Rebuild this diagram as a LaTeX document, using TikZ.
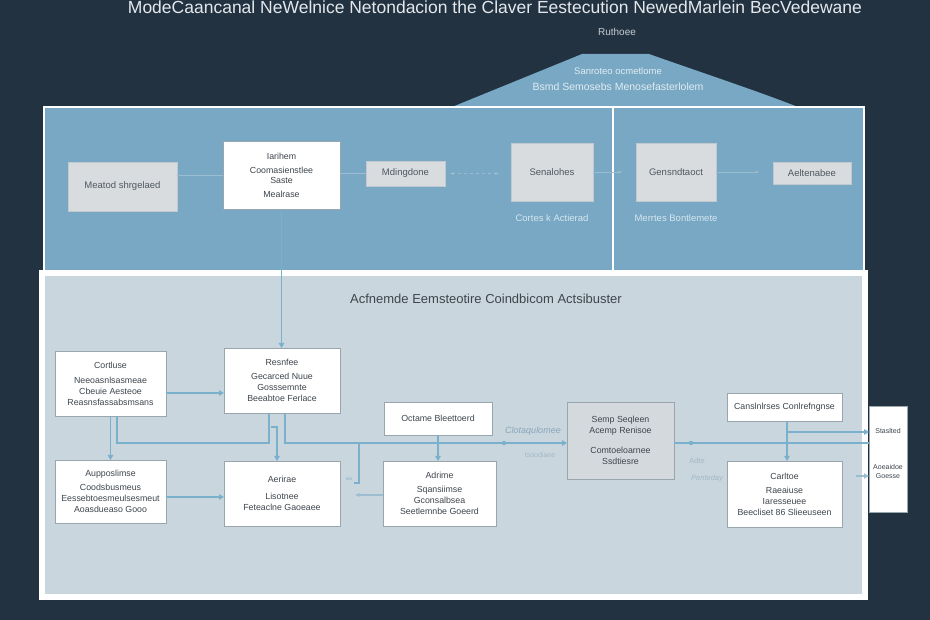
\documentclass[tikz,border=0pt]{standalone}
\usepackage{fontspec}
\setmainfont{Liberation Sans}
\usetikzlibrary{arrows.meta,calc}
\definecolor{navy}{HTML}{223241}
\definecolor{upblue}{HTML}{78A8C3}
\definecolor{lowfill}{HTML}{CAD6DE}
\definecolor{ugray}{HTML}{D8DCDF}
\definecolor{ugrayd}{HTML}{C2C9CE}
\definecolor{boxd}{HTML}{9AA6AE}
\definecolor{gbox}{HTML}{D3D9DD}
\definecolor{txtg}{HTML}{505860}
\definecolor{txtd}{HTML}{3E454C}
\definecolor{connc}{HTML}{7AB0CC}
\definecolor{faintc}{HTML}{9CBDD0}
\definecolor{titlec}{HTML}{E4E8EC}
\definecolor{rooft}{HTML}{E2ECF2}
\definecolor{lblc}{HTML}{8AA6B9}
\definecolor{lblc2}{HTML}{A2B8C6}
\definecolor{uplbl}{HTML}{D6E6F0}
\tikzset{
  ubox/.style={fill=ugray, draw=ugrayd, line width=0.5pt, inner sep=2pt, outer sep=0pt,
    text=txtg, font=\fontsize{9.5}{11}\selectfont, align=center},
  wbox/.style={fill=white, draw=boxd, line width=0.6pt, inner sep=2pt, outer sep=0pt,
    text=txtd, font=\fontsize{8.8}{11}\selectfont, align=center},
  gboxs/.style={wbox, fill=gbox, draw=boxd},
  conn/.style={draw=connc, line width=1.6pt, -{Triangle[length=5pt,width=5.5pt]}},
  connl/.style={draw=connc, line width=1.6pt},
  faintl/.style={draw=faintc, line width=0.9pt},
  lbl/.style={inner sep=0pt, font=\fontsize{8}{10}\selectfont},
}
\begin{document}
\begin{tikzpicture}[x=1pt,y=-1pt]
\useasboundingbox (0,0) rectangle (930,620);
\fill[navy] (0,0) rectangle (930,620);
% title
\node[anchor=base, text=titlec, inner sep=0pt, font=\fontsize{17.5}{19}\selectfont] (title) at (495,13.5)
  {ModeCaancanal NeWelnice Netondacion the Claver Eestecution NewedMarlein BecVedewane};
\node[lbl, text=titlec!85!navy, font=\fontsize{10}{11}\selectfont] (ruth) at (617,32) {Ruthoee};
% roof
\fill[upblue] (452,107) -- (582,54) -- (649,54) .. controls (700,72) and (760,92) .. (798,107) -- cycle;
\node[lbl, text=rooft, font=\fontsize{9.5}{10}\selectfont] (r1) at (618,71) {Sanroteo ocmetlome};
\node[lbl, text=rooft, font=\fontsize{10.5}{11}\selectfont] (r2) at (618,87) {Bsmd Semosebs Menosefasterlolem};
% upper panel
\draw[white, line width=2pt, fill=upblue] (44,107) rectangle (864,271);
\draw[white, line width=2pt] (612.5,107) -- (612.5,271);
% lower panel
\fill[white] (39,270) rectangle (868,600);
\fill[lowfill] (45,276) rectangle (862,594);
\node[lbl, text=txtd, font=\fontsize{13}{15}\selectfont] (ltitle) at (486,299)
  {Acfnemde Eemsteotire Coindbicom Actsibuster};

% upper boxes
\node[ubox, minimum width=109pt, minimum height=49pt] (u1) at (122.5,186.5) {Meatod shrgelaed};
\node[wbox, minimum width=117pt, minimum height=68pt, font=\fontsize{8.8}{10}\selectfont] (u2) at (281.5,175)
  {Iarihem\\[4pt]Coomasienstlee\\Saste\\[4pt]Mealrase};
\node[ubox, minimum width=79pt, minimum height=25pt] (u3) at (405.5,173.5) {Mdingdone};
\node[ubox, minimum width=82pt, minimum height=58pt] (u4) at (552,172) {Senalohes};
\node[ubox, minimum width=80pt, minimum height=58pt] (u5) at (676,172) {Gensndtaoct};
\node[ubox, minimum width=78pt, minimum height=22pt] (u6) at (812,173) {Aeltenabee};
\node[lbl, text=uplbl, font=\fontsize{9.5}{11}\selectfont] (l4) at (552,218) {Cortes k Actierad};
\node[lbl, text=uplbl, font=\fontsize{9.5}{11}\selectfont] (l5) at (676,218) {Merrtes Bontlemete};

% upper faint connectors
\draw[faintl] (u1.east |- u2.west) -- (u2.west);
\draw[faintl] (u2.east |- u3.west) -- (u3.west);
\draw[faintl, dashed, {Stealth[length=4pt]}-{Stealth[length=4pt]}] ([xshift=5pt]u3.east) -- ([xshift=-12pt]u4.west |- u3.east);
\draw[faintl, -{Stealth[length=4pt]}] (u4.east) -- ([xshift=-14pt]u5.west |- u4.east);
\draw[faintl, -{Stealth[length=4pt]}] (u5.east) -- ([xshift=-14pt]u6.west |- u5.east);

% lower boxes
\node[wbox, minimum width=111pt, minimum height=65pt] (A) at (110.5,383.5)
  {Cortluse\\[4pt]Neeoasnlsasmeae\\Cbeuie Aesteoe\\Reasnsfassabsmsans};
\node[wbox, minimum width=116pt, minimum height=65pt] (B) at (282,380.5)
  {Resnfee\\[3pt]Gecarced Nuue\\Gosssemnte\\Beeabtoe Ferlace};
\node[wbox, minimum width=111pt, minimum height=63pt] (C) at (110.5,491.5)
  {Aupposlimse\\[3pt]Coodsbusmeus\\Eessebtoesmeulsesmeut\\Aoasdueaso Gooo};
\node[wbox, minimum width=116pt, minimum height=65pt] (D) at (282,493.5)
  {Aerirae\\[6pt]Lisotnee\\Feteaclne Gaoeaee};
\node[wbox, minimum width=108pt, minimum height=33pt] (E) at (438,418.5) {Octame Bleettoerd};
\node[wbox, minimum width=113pt, minimum height=65pt] (F) at (439.5,493.5)
  {Adrime\\[3pt]Sqansiimse\\Gconsalbsea\\Seetlemnbe Goeerd};
\node[gboxs, minimum width=107pt, minimum height=77pt] (G) at (620.5,440.5)
  {Semp Seqleen\\Acemp Renisoe\\[9pt]Comtoeloarnee\\Ssdtiesre};
\node[wbox, minimum width=115pt, minimum height=28pt] (H) at (784.5,407) {Canslnlrses Conlrefngnse};
\node[wbox, minimum width=115pt, minimum height=66pt] (I) at (784.5,494)
  {Carltoe\\[3pt]Raeaiuse\\Iaresseuee\\Beecliset 86 Slieeuseen};
\node[wbox, minimum width=38pt, minimum height=106pt] (J) at (888,459) {};
\node[lbl, text=txtd, font=\fontsize{7}{9}\selectfont] (j1) at (888,431) {Staslted};
\node[lbl, text=txtd, font=\fontsize{7}{9}\selectfont, align=center] (j2) at (888,471) {Aoeaidoe\\Goesse};

% lower connectors
\draw[conn] (u2.south) -- (u2.south |- B.north);
\draw[conn] ([yshift=-9.5pt]A.east) -- ([yshift=-9.5pt]A.east -| B.west);
\draw[conn] ([yshift=-5.5pt]C.east) -- ([yshift=-5.5pt]C.east -| D.west);
\draw[conn] (A.south) -- (C.north);
\coordinate (k1) at (269,443);
\draw[connl] ([xshift=6.5pt]A.south) |- (k1) -- (k1 |- B.south);
\coordinate (k2) at (271,427);
\draw[conn] (k2) -| ([xshift=-5pt]D.north);
\draw[conn] ([xshift=3pt]B.south) |- ([yshift=-2.5pt]G.west);
\draw[connl] ([yshift=-2.5pt]G.east) -- ([yshift=-2.5pt]G.east -| J.west);
\coordinate (k3) at (359,443);
\coordinate (k4) at (354,483);
\draw[connl] (k3) |- (k4);
\coordinate (k5) at (355,495);
\draw[faintl, line width=1.2pt, -{Stealth[length=5pt]}] (F.west |- k5) -- (k5);
\draw[conn] (E.south) -- (E.south |- F.north);
\draw[conn] ([xshift=2.5pt]H.south) -- ([xshift=2.5pt]H.south |- I.north);
\coordinate (k6) at (787,432);
\draw[conn] (k6) -- (k6 -| J.west);
\coordinate (k7) at (856,476);
\draw[faintl, line width=1.2pt, -{Triangle[length=5pt,width=5pt]}] (k7) -- (k7 -| J.west);
\fill[connc] (504,443) circle (2.2);
\fill[connc] (691,443) circle (2.2);

% lower labels
\node[lbl, text=connc, font=\fontsize{5}{6}\selectfont] (ea) at (349,479) {ea};
\node[lbl, text=lblc, font=\itshape\fontsize{9}{10}\selectfont] (q1) at (533,431) {Clotaqulomee};
\node[lbl, text=lblc2, font=\fontsize{7}{8}\selectfont] (q2) at (540,455) {tsoodiaee};
\node[lbl, text=lblc2, font=\fontsize{7.5}{8}\selectfont] (q3) at (697,461) {Adte};
\node[lbl, text=lblc2, font=\itshape\fontsize{7.5}{8}\selectfont] (q4) at (707,479) {Penteday};
\end{tikzpicture}
\end{document}
